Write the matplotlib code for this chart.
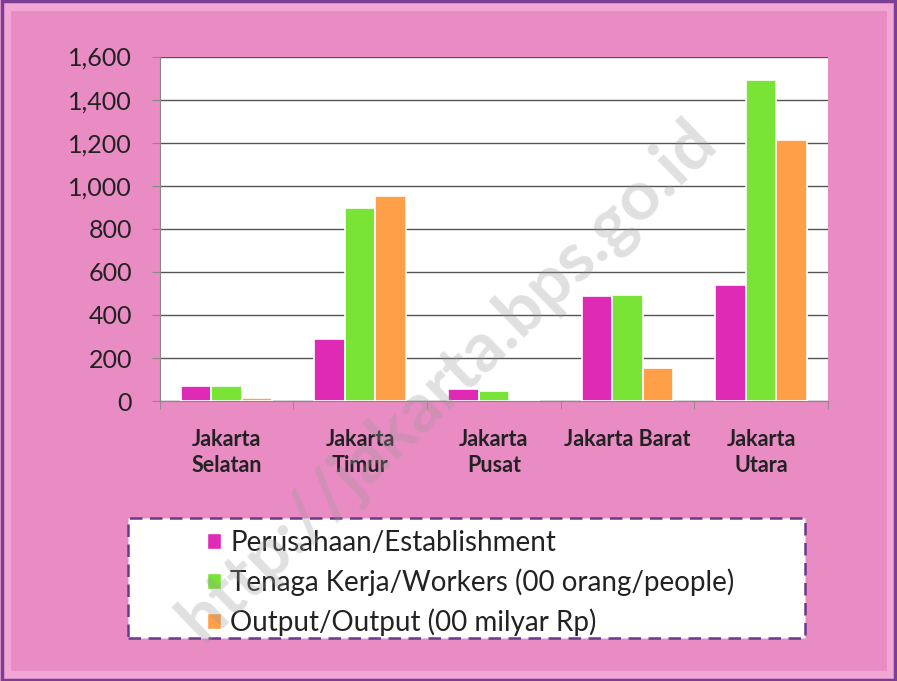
import numpy as np
import matplotlib
matplotlib.use('Agg')
import matplotlib.pyplot as plt
from matplotlib.patches import Patch, Rectangle

plt.rcParams['font.family'] = ['Lato', 'DejaVu Sans']

regions = ['Jakarta\nSelatan', 'Jakarta\nTimur', 'Jakarta\nPusat', 'Jakarta Barat', 'Jakarta\nUtara']
perusahaan = [72, 288, 54, 488, 537]
tenaga_kerja = [68, 895, 45, 492, 1492]
output = [14, 953, 2, 155, 1212]

series_names = ['Perusahaan/Establishment',
                'Tenaga Kerja/Workers (00 orang/people)',
                'Output/Output (00 milyar Rp)']
colors = ['#DE2AB4', '#7AE436', '#FFA048']
yticks = [0, 200, 400, 600, 800, 1000, 1200, 1400, 1600]

fig = plt.figure(figsize=(8.97, 6.81), dpi=100)
fig.patch.set_facecolor('#E98CC3')

# frame / bevel look
fig.patches.append(Rectangle((0.006, 0.008), 0.988, 0.984, transform=fig.transFigure,
                             facecolor='none', edgecolor='#F1A6D6', lw=8, zorder=0))
fig.patches.append(Rectangle((0.002, 0.002), 0.996, 0.996, transform=fig.transFigure,
                             facecolor='none', edgecolor='#7A3F95', lw=2.5, zorder=1))

ax = fig.add_axes([0.178, 0.411, 0.745, 0.506])
ax.set_facecolor('white')

x = np.arange(len(regions))
w = 0.228
for i, (vals, c) in enumerate(zip([perusahaan, tenaga_kerja, output], colors)):
    ax.bar(x + (i - 1) * w, vals, w, color=c, edgecolor='white', linewidth=1.2, zorder=3)

ax.set_xlim(-0.5, len(regions) - 0.5)
ax.set_ylim(0, 1600)
ax.set_yticks(yticks)
ax.set_yticklabels([f'{v:,}' for v in yticks], fontsize=18, color='#222222')
ax.yaxis.grid(True, color='#555555', linewidth=1.0, zorder=0)
ax.set_axisbelow(True)
ax.tick_params(axis='y', length=6, color='#888888', pad=14)

ax.set_xticks(x)
ax.set_xticklabels(regions, fontsize=15.5, fontweight='bold', color='#222222', linespacing=1.3)
ax.tick_params(axis='x', length=0, pad=20)
ax.set_xticks(np.arange(-0.5, len(regions)), minor=True)
ax.tick_params(axis='x', which='minor', length=6, color='#888888')

for side in ['top', 'right']:
    ax.spines[side].set_visible(False)
ax.spines['left'].set_color('#888888')
ax.spines['bottom'].set_color('#888888')

# legend box
fig.patches.append(Rectangle((0.143, 0.063), 0.754, 0.176, transform=fig.transFigure,
                             facecolor='white', edgecolor='#6A3A8A', lw=1.8,
                             linestyle=(0, (5, 3)), zorder=2))
handles = [Patch(facecolor=c, edgecolor='white') for c in colors]
leg = fig.legend(handles, series_names, loc='upper left', bbox_to_anchor=(0.218, 0.238),
                 frameon=False, fontsize=20, handlelength=0.5, handleheight=0.5,
                 handletextpad=0.35, labelspacing=0.45, borderaxespad=0)
for t in leg.get_texts():
    t.set_color('#222222')

# watermark
fig.text(0.50, 0.44, 'http://jakarta.bps.go.id', rotation=44, fontsize=50,
         fontweight='bold', color='#999999', alpha=0.3, ha='center', va='center', zorder=10)

fig.savefig('out.png', dpi=100, facecolor=fig.get_facecolor())
